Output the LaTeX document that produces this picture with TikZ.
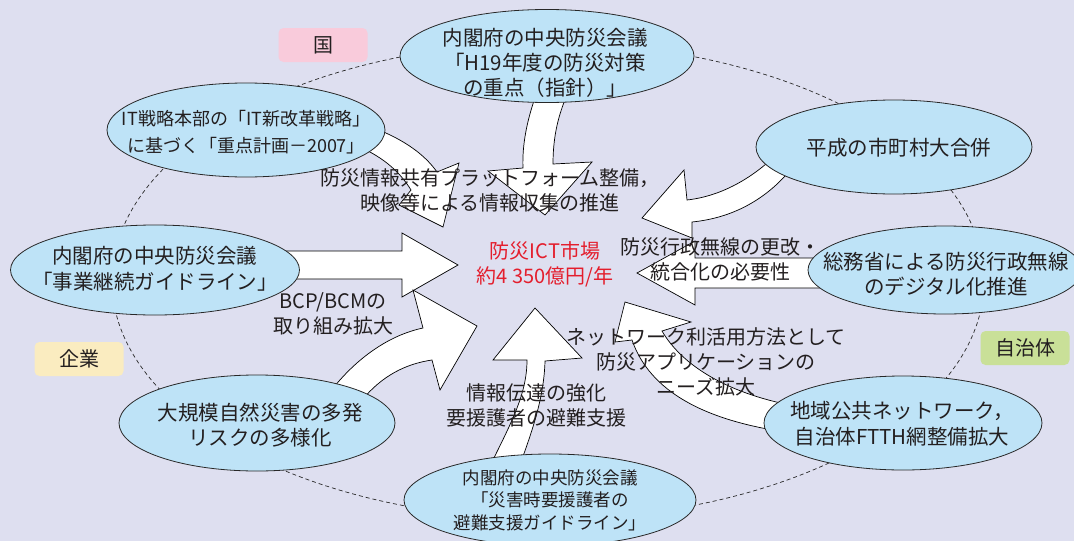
\documentclass[tikz,border=0pt]{standalone}
\usepackage{fontspec}
\setmainfont{Noto Sans CJK JP}
\usetikzlibrary{shapes.geometric}
\definecolor{bgcol}{RGB}{222,223,240}
\definecolor{bubblefill}{RGB}{190,227,247}
\definecolor{linegray}{RGB}{40,40,40}
\definecolor{textdark}{RGB}{35,31,32}
\definecolor{pinkbox}{RGB}{249,203,219}
\definecolor{yellowbox}{RGB}{250,236,192}
\definecolor{greenbox}{RGB}{201,224,152}
\definecolor{marketred}{RGB}{228,30,45}
\tikzset{
  bubble/.style={ellipse, draw=linegray, line width=0.8pt, fill=bubblefill, inner sep=0pt},
  btext/.style={align=center, text=textdark, inner sep=0pt, font=\fontsize{20.5}{25}\selectfont},
  catbox/.style={rounded corners=5pt, minimum width=89pt, minimum height=34pt, inner sep=0pt, text=textdark, font=\fontsize{20}{25}\selectfont},
  lbl/.style={align=center, text=textdark, inner sep=0pt, font=\fontsize{20}{25}\selectfont},
  fatarrow/.style={fill=white, draw=black, line width=0.7pt, line join=miter, miter limit=10},
  ring/.style={draw=linegray, line width=0.7pt, dash pattern=on 4pt off 3pt}
}
\begin{document}
\begin{tikzpicture}[x=1pt,y=-1pt]
\useasboundingbox (0,0) rectangle (1074,541);
\fill[bgcol] (0,0) rectangle (1074,541);
\begin{scope}
\clip (0,0) rectangle (1074,541);
% dashed ring
\draw[ring] (548,281) ellipse [x radius=436, y radius=238];

% fat arrows
% A: IT strategy -> centre
\draw[fatarrow] (374,128) .. controls (405,140) and (425,155) .. (437,172) -- (459,163) -- (443,227) -- (399,205) -- (411,190) .. controls (400,172) and (384,158) .. (360,147) -- cycle;
% B: top council -> centre
\draw[fatarrow] (536,95) .. controls (527,120) and (522,145) .. (523,168) -- (488,171) -- (545,215) -- (592,162) -- (553,164) .. controls (553,140) and (557,118) .. (567,95) -- cycle;
% C: municipal merger -> centre
\draw[fatarrow] (776,155) .. controls (752,178) and (722,196) .. (687,200) -- (684,170) -- (642,218) -- (692,238) -- (692,222) .. controls (732,218) and (766,200) .. (792,168) -- cycle;
% D: MIC -> centre
\draw[fatarrow] (830,258) -- (695,258) -- (695,241) -- (637,273) -- (695,305) -- (695,288) -- (830,288) -- cycle;
% E: BCP guideline -> centre
\draw[fatarrow] (280,251) -- (402,251) -- (402,233) -- (458,265) -- (402,297) -- (402,279) -- (280,279) -- cycle;
% F: disasters -> centre
\draw[fatarrow] (330,392) .. controls (357,357) and (390,335) .. (423,328) -- (413,290) -- (477,326) -- (440,390) -- (432,360) .. controls (405,364) and (382,376) .. (362,400) -- cycle;
% G: evacuation guideline -> centre
\draw[fatarrow] (488,470) .. controls (510,425) and (527,395) .. (527,360) -- (493,360) -- (535,308) -- (582,358) -- (545,361) .. controls (544,398) and (532,432) .. (518,470) -- cycle;
% H: regional network -> centre
\draw[fatarrow] (785,432) .. controls (705,420) and (650,392) .. (632,340) -- (615,342) -- (625,302) -- (691,322) -- (662,331) .. controls (680,362) and (720,390) .. (785,404) -- cycle;

% bubbles
\node[bubble, minimum width=294pt, minimum height=93pt] (b1) at (547,56) {};
\node[bubble, minimum width=278pt, minimum height=94pt] (b2) at (246,130) {};
\node[bubble, minimum width=276pt, minimum height=94pt] (b3) at (894,147) {};
\node[bubble, minimum width=289pt, minimum height=90pt] (b4) at (155,270) {};
\node[bubble, minimum width=274pt, minimum height=88pt] (b5) at (945,270) {};
\node[bubble, minimum width=276pt, minimum height=96pt] (b6) at (257,423) {};
\node[bubble, minimum width=278pt, minimum height=94pt] (b7) at (903,423) {};
\node[bubble, minimum width=292pt, minimum height=92pt] (b8) at (550,500) {};
\end{scope}

\node[btext] (t1) at (545,63) {内閣府の中央防災会議\\「H19年度の防災対策\\の重点（指針）」};
\node[btext, font=\fontsize{18}{27}\selectfont] (t2) at (246,132) {IT戦略本部の「IT新改革戦略」\\に基づく「重点計画－2007」};
\node[btext] (t3) at (899,148) {平成の市町村大合併};
\node[btext, font=\fontsize{20.5}{26}\selectfont] (t4) at (155,269) {内閣府の中央防災会議\\「事業継続ガイドライン」};
\node[btext] (t5) at (946,274) {総務省による防災行政無線\\のデジタル化推進};
\node[btext] (t6) at (260,425) {大規模自然災害の多発\\リスクの多様化};
\node[btext, font=\fontsize{20.5}{26}\selectfont] (t7) at (902,424) {地域公共ネットワーク，\\自治体FTTH網整備拡大};
\node[btext, font=\fontsize{17.5}{22.5}\selectfont] (t8) at (550,500) {内閣府の中央防災会議\\「災害時要援護者の\\避難支援ガイドライン」};

% category tags
\node[catbox, fill=pinkbox] (cKuni) at (323,45) {国};
\node[catbox, fill=yellowbox] (cKigyo) at (79,359) {企業};
\node[catbox, fill=greenbox] (cJichi) at (1025,348) {自治体};

% arrow labels
\node[lbl] (lA) at (490,190) {防災情報共有プラットフォーム整備，\\映像等による情報収集の推進};
\node[lbl] (lD) at (720,259) {防災行政無線の更改・\\統合化の必要性};
\node[lbl] (lE) at (333,314) {BCP/BCMの\\取り組み拡大};
\node[lbl] (lG) at (536,405) {情報伝達の強化\\要援護者の避難支援};
\node[lbl] (lH) at (706,362) {ネットワーク利活用方法として\\防災アプリケーションの\\ニーズ拡大};

% centre
\node[lbl, text=marketred] (market) at (545,264) {防災ICT市場\\約4 350億円/年};
\end{tikzpicture}
\end{document}
